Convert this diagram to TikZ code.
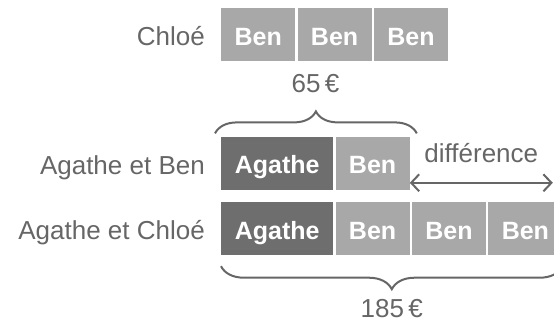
\documentclass[tikz,border=0pt]{standalone}
\usepackage{fontspec}
\setmainfont{Liberation Sans}
\usetikzlibrary{arrows.meta, positioning, calc, decorations.pathreplacing}
\definecolor{shareDark}{HTML}{6E6E6E}
\definecolor{shareLight}{HTML}{A8A8A8}
\definecolor{textGray}{HTML}{666666}
\tikzset{
  boxAgathe/.style={rectangle, fill=shareDark, text=white,
                    font=\bfseries\fontsize{25}{30}\selectfont, text height=21pt, text depth=0pt,
                    minimum width=112pt, minimum height=53pt, inner sep=0pt},
  boxBen/.style={rectangle, fill=shareLight, text=white,
                 font=\bfseries\fontsize{25}{30}\selectfont, text height=21pt, text depth=0pt,
                 minimum width=74pt, minimum height=53pt, inner sep=0pt},
  rowLabel/.style={text=textGray, inner sep=0pt, text height=22pt, text depth=0pt,
                   font=\fontsize{26}{30}\selectfont},
  braceG/.style={decorate, draw=textGray, line width=2pt},
  arrowDiff/.style={{Straight Barb[length=8pt, width=17pt]}-{Straight Barb[length=8pt, width=17pt]},
                    textGray, line width=2pt},
}

\begin{document}
\begin{tikzpicture}[node distance=2pt]
  \useasboundingbox (0,0) rectangle (554pt,-321pt);
  % Chloe
  \node[boxBen, anchor=north west] (c1) at (221pt,-8pt) {Ben};
  \node[boxBen, right=of c1] (c2) {Ben};
  \node[boxBen, right=of c2] (c3) {Ben};
  \node[rowLabel, left=16pt of c1] (lc) {Chloé};
  % Agathe et Ben
  \node[boxAgathe, below=75pt of c1.south west, anchor=north west] (ab1) {Agathe};
  \node[boxBen, right=of ab1] (ab2) {Ben};
  \node[rowLabel, left=16pt of ab1] (lab) {Agathe et Ben};
  % Agathe et Chloe
  \node[boxAgathe, below=12pt of ab1] (ac1) {Agathe};
  \node[boxBen, right=of ac1] (ac2) {Ben};
  \node[boxBen, right=of ac2] (ac3) {Ben};
  \node[boxBen, right=of ac3] (ac4) {Ben};
  \node[rowLabel, left=16pt of ac1] (lac) {Agathe et Chloé};

  \draw[braceG, decoration={brace, amplitude=22pt, raise=3pt}]
    ($(ab1.north west)+(-6pt,0)$) -- ($(ab2.north east)+(7pt,0)$);
  \node[rowLabel] (p65) at ($(ab1.north west)!0.5!(ab2.north east)+(0,55pt)$) {65\,€};

  \draw[braceG, decoration={brace, amplitude=23pt, raise=11pt}]
    (ac4.south east) -- (ac1.south west);
  \node[rowLabel] (p185) at ($(ac1.south west)!0.5!(ac4.south east)+(0,-51pt)$) {185\,€};

  \coordinate (d1) at ($(ab2.south east)+(0,7pt)$);
  \coordinate (d2) at ($(d1)+(143pt,0)$);
  \draw[arrowDiff] (d1) -- node[rowLabel, above=19pt, text height=0pt] (diff) {différence} (d2);
\end{tikzpicture}
\end{document}
